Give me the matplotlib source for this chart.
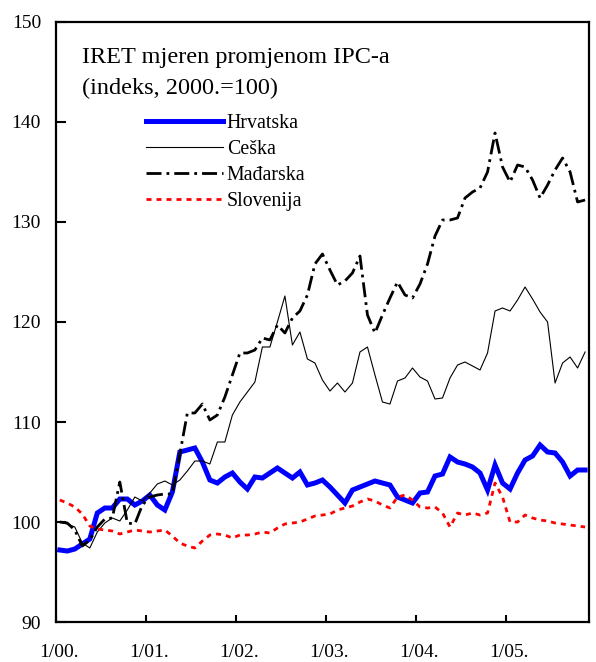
import numpy as np
import matplotlib.pyplot as plt
import matplotlib.transforms as mtransforms

# monthly index values, 1/2000 - 11/2005 (2000 = 100)
hrvatska = [97.2, 97.1, 97.3, 97.8, 98.3, 100.9, 101.4, 101.4, 102.3, 102.3,
            101.7, 102.1, 102.7, 101.7, 101.2, 103.0, 107.0, 107.2, 107.4, 106.0,
            104.2, 103.9, 104.5, 104.9, 104.0, 103.3, 104.5, 104.4, 104.9, 105.4,
            104.9, 104.4, 105.0, 103.7, 103.9, 104.2, 103.5, 102.7, 101.9, 103.2,
            103.5, 103.8, 104.1, 103.9, 103.7, 102.5, 102.2, 101.9, 102.9, 103.0,
            104.6, 104.8, 106.5, 106.0, 105.8, 105.5, 104.9, 103.2, 105.7, 103.9,
            103.3, 104.9, 106.2, 106.6, 107.7, 107.0, 106.9, 106.0, 104.6, 105.2,
            105.2]
ceska = [100.0, 99.8, 99.5, 97.9, 97.4, 99.0, 99.9, 100.4, 100.1, 101.2,
         102.5, 102.1, 102.9, 103.8, 104.1, 103.7, 104.2, 105.1, 106.1, 106.1,
         105.8, 108.0, 108.0, 110.7, 112.0, 113.0, 114.0, 117.5, 117.5, 120.0,
         122.6, 117.7, 119.0, 116.3, 115.9, 114.2, 113.1, 113.9, 113.0, 113.9,
         117.0, 117.5, 114.7, 112.0, 111.8, 114.1, 114.4, 115.4, 114.5, 114.1,
         112.3, 112.4, 114.4, 115.7, 116.0, 115.6, 115.2, 116.9, 121.1, 121.4,
         121.1, 122.2, 123.5, 122.3, 121.0, 120.0, 113.9, 115.9, 116.5, 115.4,
         117.0]
madarska = [100.0, 99.9, 99.2, 97.6, 98.2, 99.5, 100.3, 100.4, 104.0, 99.9,
            99.8, 101.7, 102.5, 102.7, 102.8, 102.8, 106.8, 110.9, 110.9, 111.8,
            110.2, 110.7, 112.5, 114.7, 116.9, 116.9, 117.2, 118.4, 118.2, 119.7,
            118.9, 120.4, 121.1, 122.7, 125.8, 126.8, 125.2, 123.7, 124.1, 124.9,
            126.6, 120.7, 118.9, 120.7, 122.4, 124.0, 122.7, 122.4, 123.8, 125.8,
            128.6, 130.2, 130.2, 130.4, 132.4, 133.0, 133.4, 135.0, 138.9, 135.5,
            134.0, 135.7, 135.5, 134.2, 132.4, 133.7, 135.2, 136.4, 135.0, 132.0,
            132.2]
slovenija = [102.2, 101.9, 101.5, 100.8, 99.6, 99.3, 99.2, 99.1, 98.8, 99.0,
             99.2, 99.1, 99.0, 99.1, 99.2, 98.6, 97.9, 97.6, 97.4, 98.1,
             98.7, 98.8, 98.7, 98.4, 98.7, 98.7, 98.8, 99.0, 98.9, 99.4,
             99.8, 99.9, 100.0, 100.3, 100.6, 100.7, 100.8, 101.2, 101.4, 101.6,
             102.0, 102.3, 102.1, 101.7, 101.4, 102.5, 102.7, 102.2, 101.5, 101.4,
             101.5, 100.9, 99.5, 100.9, 100.7, 100.9, 100.7, 100.9, 103.9, 102.5,
             100.0, 100.0, 100.7, 100.4, 100.2, 100.1, 99.9, 99.8, 99.7, 99.6,
             99.5]
tick_labels = ['1/00.', '1/01.', '1/02.', '1/03.', '1/04.', '1/05.']

plt.rcParams['font.family'] = ['Liberation Serif', 'DejaVu Serif']

fig = plt.figure(figsize=(5.96, 6.62), dpi=100)
ax = fig.add_axes([0.094, 0.0604, 0.894, 0.9064])

x = np.arange(len(hrvatska)) + 0.5
ax.plot(x, hrvatska, color='#0000ff', lw=3.6, solid_joinstyle='miter', label='Hrvatska')
ax.plot(x, ceska, color='black', lw=0.8, label='Ceška')
ax.plot(x, madarska, color='black', lw=2.0, dashes=(5.4, 1.8, 1.0, 1.8), label='Mađarska')
ax.plot(x, slovenija, color='#ff0000', lw=2.0, dashes=(1.8, 1.8), label='Slovenija')

ax.set_xlim(0, len(hrvatska))
ax.set_ylim(90, 150)
ax.set_yticks(range(90, 151, 10))
ax.set_xticks(range(0, 61, 12))
ax.set_xticklabels(tick_labels)
ax.tick_params(direction='in', width=1.5, labelsize=14)
ax.tick_params(axis='y', length=7, pad=10.8)
ax.tick_params(axis='x', length=5, pad=16)
for s in ax.spines.values():
    s.set_linewidth(1.6)

# excel puts the date labels a little right of the tick
shift = mtransforms.ScaledTranslation(3 / 100, 0, fig.dpi_scale_trans)
for lab in ax.get_xticklabels():
    lab.set_transform(lab.get_transform() + shift)

fig.text(0.137, 0.9048, 'IRET mjeren promjenom IPC-a', fontsize=17.5, va='baseline')
fig.text(0.137, 0.858, '(indeks, 2000.=100)', fontsize=17.5, va='baseline')

ax.legend(loc='upper left', bbox_to_anchor=(0.245, 0.828), bbox_transform=fig.transFigure,
          frameon=False, fontsize=14.3, handlelength=3.87, handletextpad=0.2,
          labelspacing=0.35, borderpad=0, borderaxespad=0)

fig.savefig('out.png', dpi=100)
